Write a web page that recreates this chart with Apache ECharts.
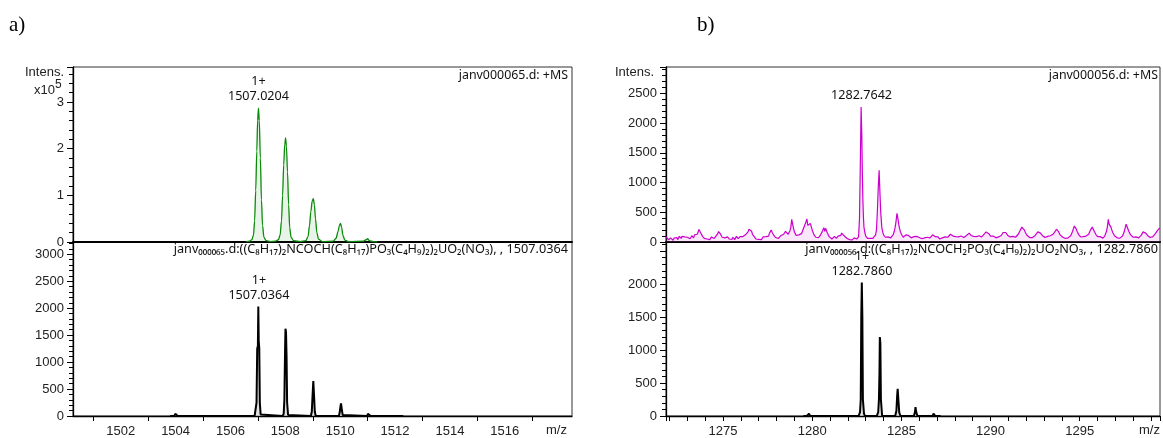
<!DOCTYPE html>
<html><head><meta charset="utf-8">
<script src="https://cdn.jsdelivr.net/npm/echarts@6/dist/echarts.min.js"></script>
<style>html,body{margin:0;padding:0;background:#fff}#c{width:1163px;height:438px}</style>
</head><body><div id="c"></div>
<script>
// ---------- texts ----------
const panelLetters = ['a)', 'b)'];
const aHeaderTop = 'janv000065.d: +MS';
const aHeaderBottom = 'janv₀₀₀₀₆₅.d:((C₈H₁₇)₂NCOCH(C₈H₁₇)PO₃(C₄H₉)₂)₂UO₂(NO₃), , 1507.0364';
const bHeaderTop = 'janv000056.d: +MS';
const bHeaderBottom = 'janv₀₀₀₀₅₆.d:((C₈H₁₇)₂NCOCH₂PO₃(C₄H₉)₂)₂UO₂NO₃, , 1282.7860';
const aExpPeak = [1507.0204, 2.87];      const aExpPeakLabel = '1+\n1507.0204';
const aSimPeak = [1507.0364, 2030];      const aSimPeakLabel = '1+\n1507.0364';
const bExpPeak = [1282.7642, 2270];      const bExpPeakLabel = '1282.7642';
const bSimPeak = [1282.7860, 2024];      const bSimPeakLabel = '1+\n1282.7860';

// ---------- data: [m/z, intensity] ----------
// a) experimental (x10^5)
const aExp = [
[1506.55,0.00],[1506.70,0.02],[1506.78,0.05],[1506.84,0.15],[1506.88,0.45],[1506.92,1.10],[1506.96,1.95],[1506.99,2.60],[1507.02,2.87],[1507.05,2.60],[1507.09,1.80],[1507.13,0.90],[1507.17,0.35],[1507.22,0.10],[1507.30,0.03],[1507.45,0.01],[1507.65,0.02],[1507.75,0.05],[1507.81,0.15],[1507.86,0.45],[1507.90,1.00],[1507.94,1.65],[1507.98,2.10],[1508.01,2.23],[1508.04,2.05],[1508.08,1.50],[1508.12,0.80],[1508.16,0.30],[1508.21,0.10],[1508.30,0.03],[1508.55,0.01],[1508.75,0.03],[1508.83,0.12],[1508.88,0.35],[1508.93,0.65],[1508.98,0.88],[1509.02,0.93],[1509.06,0.80],[1509.10,0.50],[1509.15,0.20],[1509.21,0.06],[1509.35,0.01],[1509.75,0.02],[1509.85,0.08],[1509.92,0.22],[1509.97,0.35],[1510.01,0.40],[1510.05,0.32],[1510.10,0.14],[1510.17,0.04],[1510.30,0.01],[1510.85,0.02],[1510.95,0.05],[1511.00,0.07],[1511.06,0.03],[1511.20,0.01],[1511.35,0.00]
];
// a) simulated
const aSim = [
[1503.80,0],[1503.95,0],[1503.99,40],[1504.03,30],[1504.08,0],[1506.88,0],[1506.92,30],[1506.95,250],[1506.975,1250],[1507.00,1300],[1507.015,2030],[1507.03,1400],[1507.05,1250],[1507.07,250],[1507.10,30],[1507.13,0],[1507.90,0],[1507.94,40],[1507.965,300],[1507.99,1200],[1508.005,1620],[1508.025,1550],[1508.045,1100],[1508.065,250],[1508.10,20],[1508.13,0],[1508.93,0],[1508.965,80],[1508.99,350],[1509.02,646],[1509.045,400],[1509.075,80],[1509.11,0],[1509.95,0],[1509.98,60],[1510.01,180],[1510.03,234],[1510.06,120],[1510.09,20],[1510.12,0],[1510.98,0],[1511.01,40],[1511.04,74],[1511.07,40],[1511.11,0],[1512.30,0]
];
// b) experimental
const bExp = [
[1271.8,90],[1271.85,60],[1271.9,70],[1271.95,35],[1272.0,40],[1272.05,70],[1272.1,55],[1272.15,45],[1272.2,30],[1272.25,65],[1272.3,60],[1272.35,90],[1272.4,75],[1272.45,40],[1272.5,50],[1272.55,95],[1272.6,80],[1272.65,60],[1272.7,95],[1272.75,120],[1272.8,70],[1272.85,85],[1272.9,110],[1272.95,65],[1273.0,80],[1273.05,110],[1273.1,90],[1273.15,55],[1273.2,60],[1273.25,105],[1273.3,95],[1273.35,70],[1273.4,120],[1273.45,100],[1273.5,90],[1273.55,130],[1273.6,150],[1273.65,210],[1273.7,190],[1273.75,150],[1273.8,130],[1273.85,95],[1273.9,100],[1273.95,60],[1274.0,70],[1274.05,45],[1274.1,50],[1274.15,80],[1274.2,75],[1274.25,40],[1274.3,55],[1274.35,85],[1274.4,80],[1274.45,55],[1274.5,60],[1274.55,90],[1274.6,100],[1274.65,125],[1274.7,140],[1274.75,175],[1274.8,165],[1274.85,135],[1274.9,120],[1274.95,80],[1275.0,90],[1275.05,60],[1275.1,70],[1275.15,40],[1275.2,55],[1275.25,85],[1275.3,80],[1275.35,50],[1275.4,60],[1275.45,70],[1275.5,45],[1275.55,80],[1275.6,70],[1275.65,40],[1275.7,55],[1275.75,95],[1275.8,85],[1275.85,55],[1275.9,60],[1275.95,90],[1276.0,75],[1276.05,65],[1276.1,90],[1276.15,60],[1276.2,70],[1276.25,120],[1276.3,110],[1276.35,150],[1276.4,170],[1276.45,215],[1276.5,240],[1276.55,200],[1276.6,180],[1276.65,130],[1276.7,110],[1276.75,90],[1276.8,80],[1276.85,50],[1276.9,60],[1276.95,70],[1277.0,45],[1277.05,75],[1277.1,60],[1277.15,40],[1277.2,50],[1277.25,85],[1277.3,70],[1277.35,60],[1277.4,90],[1277.45,110],[1277.5,120],[1277.55,100],[1277.6,150],[1277.65,170],[1277.7,200],[1277.75,165],[1277.8,150],[1277.85,110],[1277.9,100],[1277.95,75],[1278.0,70],[1278.05,85],[1278.1,60],[1278.15,55],[1278.2,80],[1278.25,110],[1278.3,100],[1278.35,85],[1278.4,130],[1278.45,160],[1278.5,180],[1278.55,150],[1278.6,160],[1278.65,130],[1278.7,120],[1278.75,190],[1278.8,250],[1278.85,380],[1278.9,300],[1278.95,230],[1279.0,170],[1279.05,140],[1279.1,110],[1279.15,90],[1279.2,80],[1279.25,120],[1279.3,100],[1279.35,130],[1279.4,140],[1279.45,180],[1279.5,210],[1279.55,260],[1279.6,300],[1279.65,340],[1279.7,390],[1279.75,280],[1279.8,250],[1279.85,290],[1279.9,310],[1279.95,300],[1280.0,200],[1280.05,160],[1280.1,120],[1280.15,100],[1280.2,80],[1280.25,95],[1280.3,60],[1280.35,75],[1280.4,90],[1280.45,110],[1280.5,130],[1280.55,170],[1280.6,200],[1280.65,240],[1280.7,180],[1280.75,230],[1280.8,200],[1280.85,150],[1280.9,120],[1280.95,90],[1281.0,70],[1281.05,85],[1281.1,50],[1281.15,60],[1281.2,65],[1281.25,95],[1281.3,80],[1281.35,60],[1281.4,70],[1281.45,100],[1281.5,90],[1281.55,120],[1281.6,110],[1281.65,150],[1281.7,140],[1281.75,120],[1281.8,100],[1281.85,90],[1281.9,70],[1281.95,60],[1282.0,50],[1282.05,65],[1282.1,40],[1282.15,60],[1282.2,55],[1282.25,35],[1282.3,40],[1282.35,70],[1282.4,60],[1282.45,45],[1282.5,50],[1282.55,80],[1282.6,90],[1282.65,400],[1282.7,1400],[1282.74,2270],[1282.78,1800],[1282.81,1150],[1282.84,700],[1282.87,420],[1282.9,250],[1282.95,160],[1283.0,100],[1283.05,80],[1283.1,60],[1283.15,75],[1283.2,50],[1283.25,60],[1283.3,70],[1283.35,45],[1283.4,60],[1283.45,85],[1283.5,90],[1283.55,120],[1283.6,200],[1283.65,500],[1283.7,900],[1283.75,1205],[1283.8,800],[1283.84,500],[1283.87,380],[1283.9,250],[1283.95,170],[1284.0,120],[1284.05,100],[1284.1,80],[1284.15,65],[1284.2,60],[1284.25,85],[1284.3,90],[1284.35,60],[1284.4,70],[1284.45,95],[1284.5,100],[1284.55,130],[1284.6,180],[1284.65,250],[1284.7,350],[1284.75,482],[1284.8,400],[1284.85,300],[1284.9,220],[1284.95,170],[1285.0,130],[1285.05,100],[1285.1,80],[1285.15,95],[1285.2,100],[1285.25,120],[1285.3,130],[1285.35,100],[1285.4,110],[1285.45,95],[1285.5,80],[1285.55,70],[1285.6,60],[1285.65,85],[1285.7,90],[1285.75,110],[1285.8,120],[1285.85,95],[1285.9,100],[1285.95,70],[1286.0,75],[1286.05,90],[1286.1,60],[1286.15,55],[1286.2,80],[1286.25,85],[1286.3,70],[1286.35,50],[1286.4,55],[1286.45,80],[1286.5,85],[1286.55,60],[1286.6,70],[1286.65,95],[1286.7,100],[1286.75,120],[1286.8,130],[1286.85,110],[1286.9,90],[1286.95,70],[1287.0,60],[1287.05,85],[1287.1,75],[1287.15,50],[1287.2,55],[1287.25,80],[1287.3,70],[1287.35,60],[1287.4,90],[1287.45,85],[1287.5,65],[1287.55,75],[1287.6,80],[1287.65,95],[1287.7,110],[1287.75,130],[1287.8,140],[1287.85,120],[1287.9,100],[1287.95,85],[1288.0,75],[1288.05,90],[1288.1,60],[1288.15,70],[1288.2,85],[1288.25,65],[1288.3,70],[1288.35,100],[1288.4,95],[1288.45,80],[1288.5,75],[1288.55,95],[1288.6,90],[1288.65,110],[1288.7,120],[1288.75,140],[1288.8,150],[1288.85,125],[1288.9,110],[1288.95,90],[1289.0,80],[1289.05,95],[1289.1,65],[1289.15,75],[1289.2,90],[1289.25,70],[1289.3,75],[1289.35,105],[1289.4,100],[1289.45,80],[1289.5,85],[1289.55,115],[1289.6,110],[1289.65,135],[1289.7,150],[1289.75,170],[1289.8,190],[1289.85,160],[1289.9,140],[1289.95,115],[1290.0,100],[1290.05,85],[1290.1,80],[1290.15,100],[1290.2,95],[1290.25,75],[1290.3,70],[1290.35,95],[1290.4,100],[1290.45,85],[1290.5,80],[1290.55,105],[1290.6,110],[1290.65,140],[1290.7,160],[1290.75,175],[1290.8,185],[1290.85,160],[1290.9,140],[1290.95,115],[1291.0,100],[1291.05,90],[1291.1,85],[1291.15,70],[1291.2,75],[1291.25,95],[1291.3,100],[1291.35,80],[1291.4,80],[1291.45,105],[1291.5,110],[1291.55,130],[1291.6,150],[1291.65,190],[1291.7,220],[1291.75,250],[1291.8,270],[1291.85,230],[1291.9,200],[1291.95,160],[1292.0,130],[1292.05,110],[1292.1,90],[1292.15,85],[1292.2,75],[1292.25,100],[1292.3,95],[1292.35,75],[1292.4,80],[1292.45,105],[1292.5,110],[1292.55,120],[1292.6,140],[1292.65,170],[1292.7,190],[1292.75,175],[1292.8,150],[1292.85,130],[1292.9,110],[1292.95,95],[1293.0,85],[1293.05,75],[1293.1,70],[1293.15,95],[1293.2,95],[1293.25,70],[1293.3,80],[1293.35,105],[1293.4,100],[1293.45,115],[1293.5,130],[1293.55,150],[1293.6,170],[1293.65,195],[1293.7,215],[1293.75,200],[1293.8,180],[1293.85,150],[1293.9,120],[1293.95,100],[1294.0,90],[1294.05,80],[1294.1,75],[1294.15,65],[1294.2,60],[1294.25,85],[1294.3,90],[1294.35,70],[1294.4,80],[1294.45,100],[1294.5,110],[1294.55,140],[1294.6,180],[1294.65,230],[1294.7,270],[1294.75,250],[1294.8,220],[1294.85,180],[1294.9,150],[1294.95,120],[1295.0,100],[1295.05,85],[1295.1,75],[1295.15,95],[1295.2,90],[1295.25,70],[1295.3,70],[1295.35,100],[1295.4,95],[1295.45,110],[1295.5,130],[1295.55,160],[1295.6,200],[1295.65,230],[1295.7,250],[1295.75,220],[1295.8,190],[1295.85,160],[1295.9,130],[1295.95,105],[1296.0,90],[1296.05,80],[1296.1,70],[1296.15,90],[1296.2,85],[1296.25,65],[1296.3,65],[1296.35,95],[1296.4,100],[1296.45,130],[1296.5,180],[1296.55,260],[1296.6,380],[1296.65,300],[1296.7,330],[1296.75,250],[1296.8,200],[1296.85,160],[1296.9,130],[1296.95,105],[1297.0,90],[1297.05,80],[1297.1,70],[1297.15,90],[1297.2,85],[1297.25,65],[1297.3,70],[1297.35,95],[1297.4,100],[1297.45,130],[1297.5,180],[1297.55,240],[1297.6,300],[1297.65,260],[1297.7,230],[1297.75,180],[1297.8,150],[1297.85,120],[1297.9,100],[1297.95,90],[1298.0,80],[1298.05,70],[1298.1,65],[1298.15,85],[1298.2,80],[1298.25,60],[1298.3,70],[1298.35,90],[1298.4,95],[1298.45,115],[1298.5,140],[1298.55,170],[1298.6,190],[1298.65,170],[1298.7,150],[1298.75,130],[1298.8,110],[1298.85,95],[1298.9,80],[1298.95,75],[1299.0,70],[1299.05,85],[1299.1,90],[1299.15,100],[1299.2,120],[1299.25,145],[1299.3,170],[1299.35,190],[1299.4,215],[1299.45,225],[1299.5,230]
];
// b) simulated
const bSim = [
[1279.50,0],[1279.70,0],[1279.78,30],[1279.82,36],[1279.88,0],[1282.60,0],[1282.68,60],[1282.72,250],[1282.75,1500],[1282.78,2024],[1282.81,1500],[1282.84,250],[1282.90,40],[1282.95,0],[1283.62,0],[1283.70,60],[1283.74,250],[1283.77,650],[1283.79,1196],[1283.82,1100],[1283.85,250],[1283.92,0],[1284.65,0],[1284.72,80],[1284.76,300],[1284.79,412],[1284.83,250],[1284.88,50],[1284.95,0],[1285.70,0],[1285.76,60],[1285.79,136],[1285.83,60],[1285.90,0],[1286.75,0],[1286.80,36],[1286.85,20],[1286.90,0],[1287.20,0]
];

// ---------- axis ranges ----------
const aX = {min: 1500.26, max: 1518.45, step: 2, labelMax: 1516};
const bX = {min: 1271.8, max: 1299.5, step: 5, labelMax: 1295};
const aTopY = {max: 3.75, step: 1, labelMax: 3};
const aBotY = {max: 3227, step: 500, labelMax: 3000};
const bTopY = {max: 2942, step: 500, labelMax: 2500};
const bBotY = {max: 2637, step: 500, labelMax: 2000};

const AX_FONT = 'Liberation Sans, Arial, sans-serif';
const TXT_FONT = 'Noto Sans, sans-serif';
const grids = [
  {left: 73, top: 67, width: 499, height: 175},
  {left: 73, top: 242, width: 499, height: 175},
  {left: 666, top: 67, width: 494, height: 175},
  {left: 666, top: 242, width: 494, height: 175}
].map(g => Object.assign({show: true, borderColor: '#333', borderWidth: 1, backgroundColor: 'transparent'}, g));

function xAxis(gi, r, labels, minorSplit, showMajorTick) {
  return {
    type: 'value', gridIndex: gi, min: r.min, max: r.max,
    minInterval: r.step, maxInterval: r.step, splitNumber: 6,
    splitLine: {show: false},
    axisLine: {show: true, onZero: false, lineStyle: {color: '#000', width: labels ? 1.3 : 2}},
    axisTick: {show: labels && showMajorTick, length: 5, lineStyle: {color: '#000'}},
    minorTick: {show: labels, splitNumber: minorSplit, length: 5, lineStyle: {color: '#000'}},
    axisLabel: {show: labels, showMinLabel: false, showMaxLabel: false, margin: 9,
      fontSize: 13, fontFamily: AX_FONT, color: '#222',
      formatter: v => (v > r.labelMax + 0.001 ? '' : String(Math.round(v)))}
  };
}
function yAxis(gi, r) {
  return {
    type: 'value', gridIndex: gi, min: 0, max: r.max, interval: r.step,
    splitLine: {show: false},
    axisLine: {show: true, lineStyle: {color: '#000', width: 1.3}},
    axisTick: {show: true, length: 6, lineStyle: {color: '#000'}},
    minorTick: {show: true, splitNumber: 5, length: 4, lineStyle: {color: '#000'}},
    axisLabel: {showMaxLabel: false, margin: 9, fontSize: 13, fontFamily: AX_FONT, color: '#222',
      formatter: v => (v > r.labelMax + 0.001 ? '' : String(v))}
  };
}
function peakMark(coord, text, dist) {
  return {
    symbol: 'circle', symbolSize: 1, silent: true,
    itemStyle: {color: 'rgba(0,0,0,0)'},
    label: {show: true, position: 'top', distance: dist, formatter: text,
      fontFamily: TXT_FONT, fontSize: 12.6, lineHeight: 15, color: '#111'},
    data: [{coord: coord}]
  };
}
function spec(xi, data, color, fill, width, mark, smooth) {
  return {
    type: 'line', xAxisIndex: xi, yAxisIndex: xi, data: data,
    showSymbol: false, symbol: 'none', smooth: smooth, smoothMonotone: 'x', clip: true,
    lineStyle: {color: color, width: width}, areaStyle: {color: fill, origin: 'start'},
    markPoint: mark, z: 3
  };
}

const option = {
  animation: false,
  backgroundColor: '#fff',
  grid: grids,
  xAxis: [xAxis(0, aX, false), xAxis(1, aX, true, 2, false), xAxis(2, bX, false), xAxis(3, bX, true, 5, true)],
  yAxis: [yAxis(0, aTopY), yAxis(1, aBotY), yAxis(2, bTopY), yAxis(3, bBotY)],
  series: [
    spec(0, aExp, '#0a8a0a', 'rgba(0,130,0,0.13)', 1.3, peakMark(aExpPeak, aExpPeakLabel, 4), 0.3),
    spec(1, aSim, '#000', '#d4d4d4', 2, peakMark(aSimPeak, aSimPeakLabel, 3), 0),
    spec(2, bExp, '#cc00cc', 'rgba(230,120,230,0.25)', 1.2, peakMark(bExpPeak, bExpPeakLabel, 4), 0),
    spec(3, bSim, '#000', '#d4d4d4', 2, peakMark(bSimPeak, bSimPeakLabel, 3), 0)
  ],
  graphic: [
    {type: 'text', left: 9, top: 15, style: {text: panelLetters[0], font: '21px Liberation Serif, serif', fill: '#000'}},
    {type: 'text', left: 697, top: 15, style: {text: panelLetters[1], font: '21px Liberation Serif, serif', fill: '#000'}},
    {type: 'text', left: 25, top: 66, style: {text: 'Intens.', font: '13px ' + AX_FONT, fill: '#222'}},
    {type: 'text', left: 34, top: 84, style: {text: 'x10', font: '13px ' + AX_FONT, fill: '#222'}},
    {type: 'text', left: 55, top: 79, style: {text: '5', font: '12px ' + AX_FONT, fill: '#222'}},
    {type: 'text', left: 615, top: 66, style: {text: 'Intens.', font: '13px ' + AX_FONT, fill: '#222'}},
    {type: 'text', left: 546, top: 424, style: {text: 'm/z', font: '13px ' + AX_FONT, fill: '#222'}},
    {type: 'text', left: 1139, top: 424, style: {text: 'm/z', font: '13px ' + AX_FONT, fill: '#222'}},
    {type: 'text', right: 1163 - 568, top: 69, style: {text: aHeaderTop, font: '12.4px ' + TXT_FONT, fill: '#111'}},
    {type: 'text', right: 1163 - 568, top: 243, style: {text: aHeaderBottom, font: '12.7px ' + TXT_FONT, fill: '#111'}},
    {type: 'text', right: 1163 - 1158, top: 69, style: {text: bHeaderTop, font: '12.4px ' + TXT_FONT, fill: '#111'}},
    {type: 'text', right: 1163 - 1158, top: 243, style: {text: bHeaderBottom, font: '12.7px ' + TXT_FONT, fill: '#111'}}
  ]
};
const chart = echarts.init(document.getElementById('c'), null, {renderer: 'canvas'});
chart.setOption(option);
</script></body></html>
